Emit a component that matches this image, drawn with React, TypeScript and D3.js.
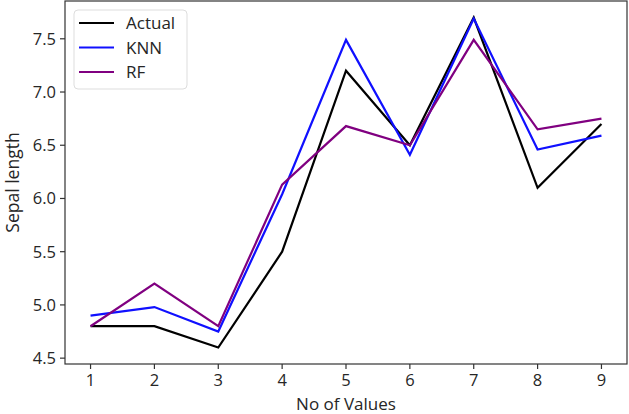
import React from "react";
import * as d3 from "d3";

const xValues = [1, 2, 3, 4, 5, 6, 7, 8, 9];
const actual = [4.8, 4.8, 4.6, 5.5, 7.2, 6.5, 7.7, 6.1, 6.7];
const knn = [4.9, 4.98, 4.75, 6.04, 7.49, 6.41, 7.69, 6.46, 6.59];
const rf = [4.8, 5.2, 4.8, 6.13, 6.68, 6.5, 7.49, 6.65, 6.75];
const yTicks = [4.5, 5.0, 5.5, 6.0, 6.5, 7.0, 7.5];
const seriesNames = ["Actual", "KNN", "RF"];
const seriesColors = ["#000000", "#1010ff", "#800080"];

const W = 629;
const H = 414;
const FONT = "'Open Sans', sans-serif";

export default function App() {
  const x = d3.scaleLinear().domain([0.6, 9.4]).range([65, 627]);
  const y = d3.scaleLinear().domain([4.445, 7.855]).range([364, 1]);
  const line = d3
    .line<number>()
    .x((_, i) => x(xValues[i]))
    .y((d) => y(d));
  const series = [actual, knn, rf];
  const [x0, x1] = x.range();
  const [yb, yt] = y.range();

  return (
    <svg
      width={W}
      height={H}
      style={{ position: "absolute", left: 0, top: 0, background: "#fff" }}
      fontFamily={FONT}
    >
      <rect x={0} y={0} width={W} height={H} fill="#fff" />
      {series.map((s, i) => (
        <path
          key={i}
          d={line(s) || ""}
          fill="none"
          stroke={seriesColors[i]}
          strokeWidth={2.2}
          strokeLinejoin="miter"
        />
      ))}
      <rect
        x={x0}
        y={yt}
        width={x1 - x0}
        height={yb - yt}
        fill="none"
        stroke="#333"
        strokeWidth={1.2}
      />
      {yTicks.map((t) => (
        <g key={t} transform={`translate(0,${y(t)})`}>
          <line x1={x0 - 5} x2={x0} stroke="#333" strokeWidth={1.2} />
          <text
            x={x0 - 9}
            dy="0.36em"
            textAnchor="end"
            fontSize={16.5}
            fill="#262626"
          >
            {t.toFixed(1)}
          </text>
        </g>
      ))}
      {xValues.map((t) => (
        <g key={t} transform={`translate(${x(t)},0)`}>
          <line y1={yb} y2={yb + 5} stroke="#333" strokeWidth={1.2} />
          <text
            y={yb + 22}
            textAnchor="middle"
            fontSize={16.5}
            fill="#262626"
          >
            {t}
          </text>
        </g>
      ))}
      <text
        x={346}
        y={409.5}
        textAnchor="middle"
        fontSize={17}
        fill="#262626"
      >
        No of Values
      </text>
      <text
        transform={`translate(19,${(yb + yt) / 2}) rotate(-90)`}
        textAnchor="middle"
        fontSize={17.5}
        fill="#262626"
      >
        Sepal length
      </text>
      <g>
        <rect
          x={74}
          y={10}
          width={113}
          height={79}
          rx={4}
          fill="#fff"
          fillOpacity={0.8}
          stroke="#ddd"
          strokeWidth={1}
        />
        {seriesNames.map((n, i) => (
          <g key={n} transform={`translate(0,${23 + i * 24.5})`}>
            <line x1={79} x2={114} stroke={seriesColors[i]} strokeWidth={2.2} />
            <text x={126} dy="0.36em" fontSize={17} fill="#262626">
              {n}
            </text>
          </g>
        ))}
      </g>
    </svg>
  );
}
